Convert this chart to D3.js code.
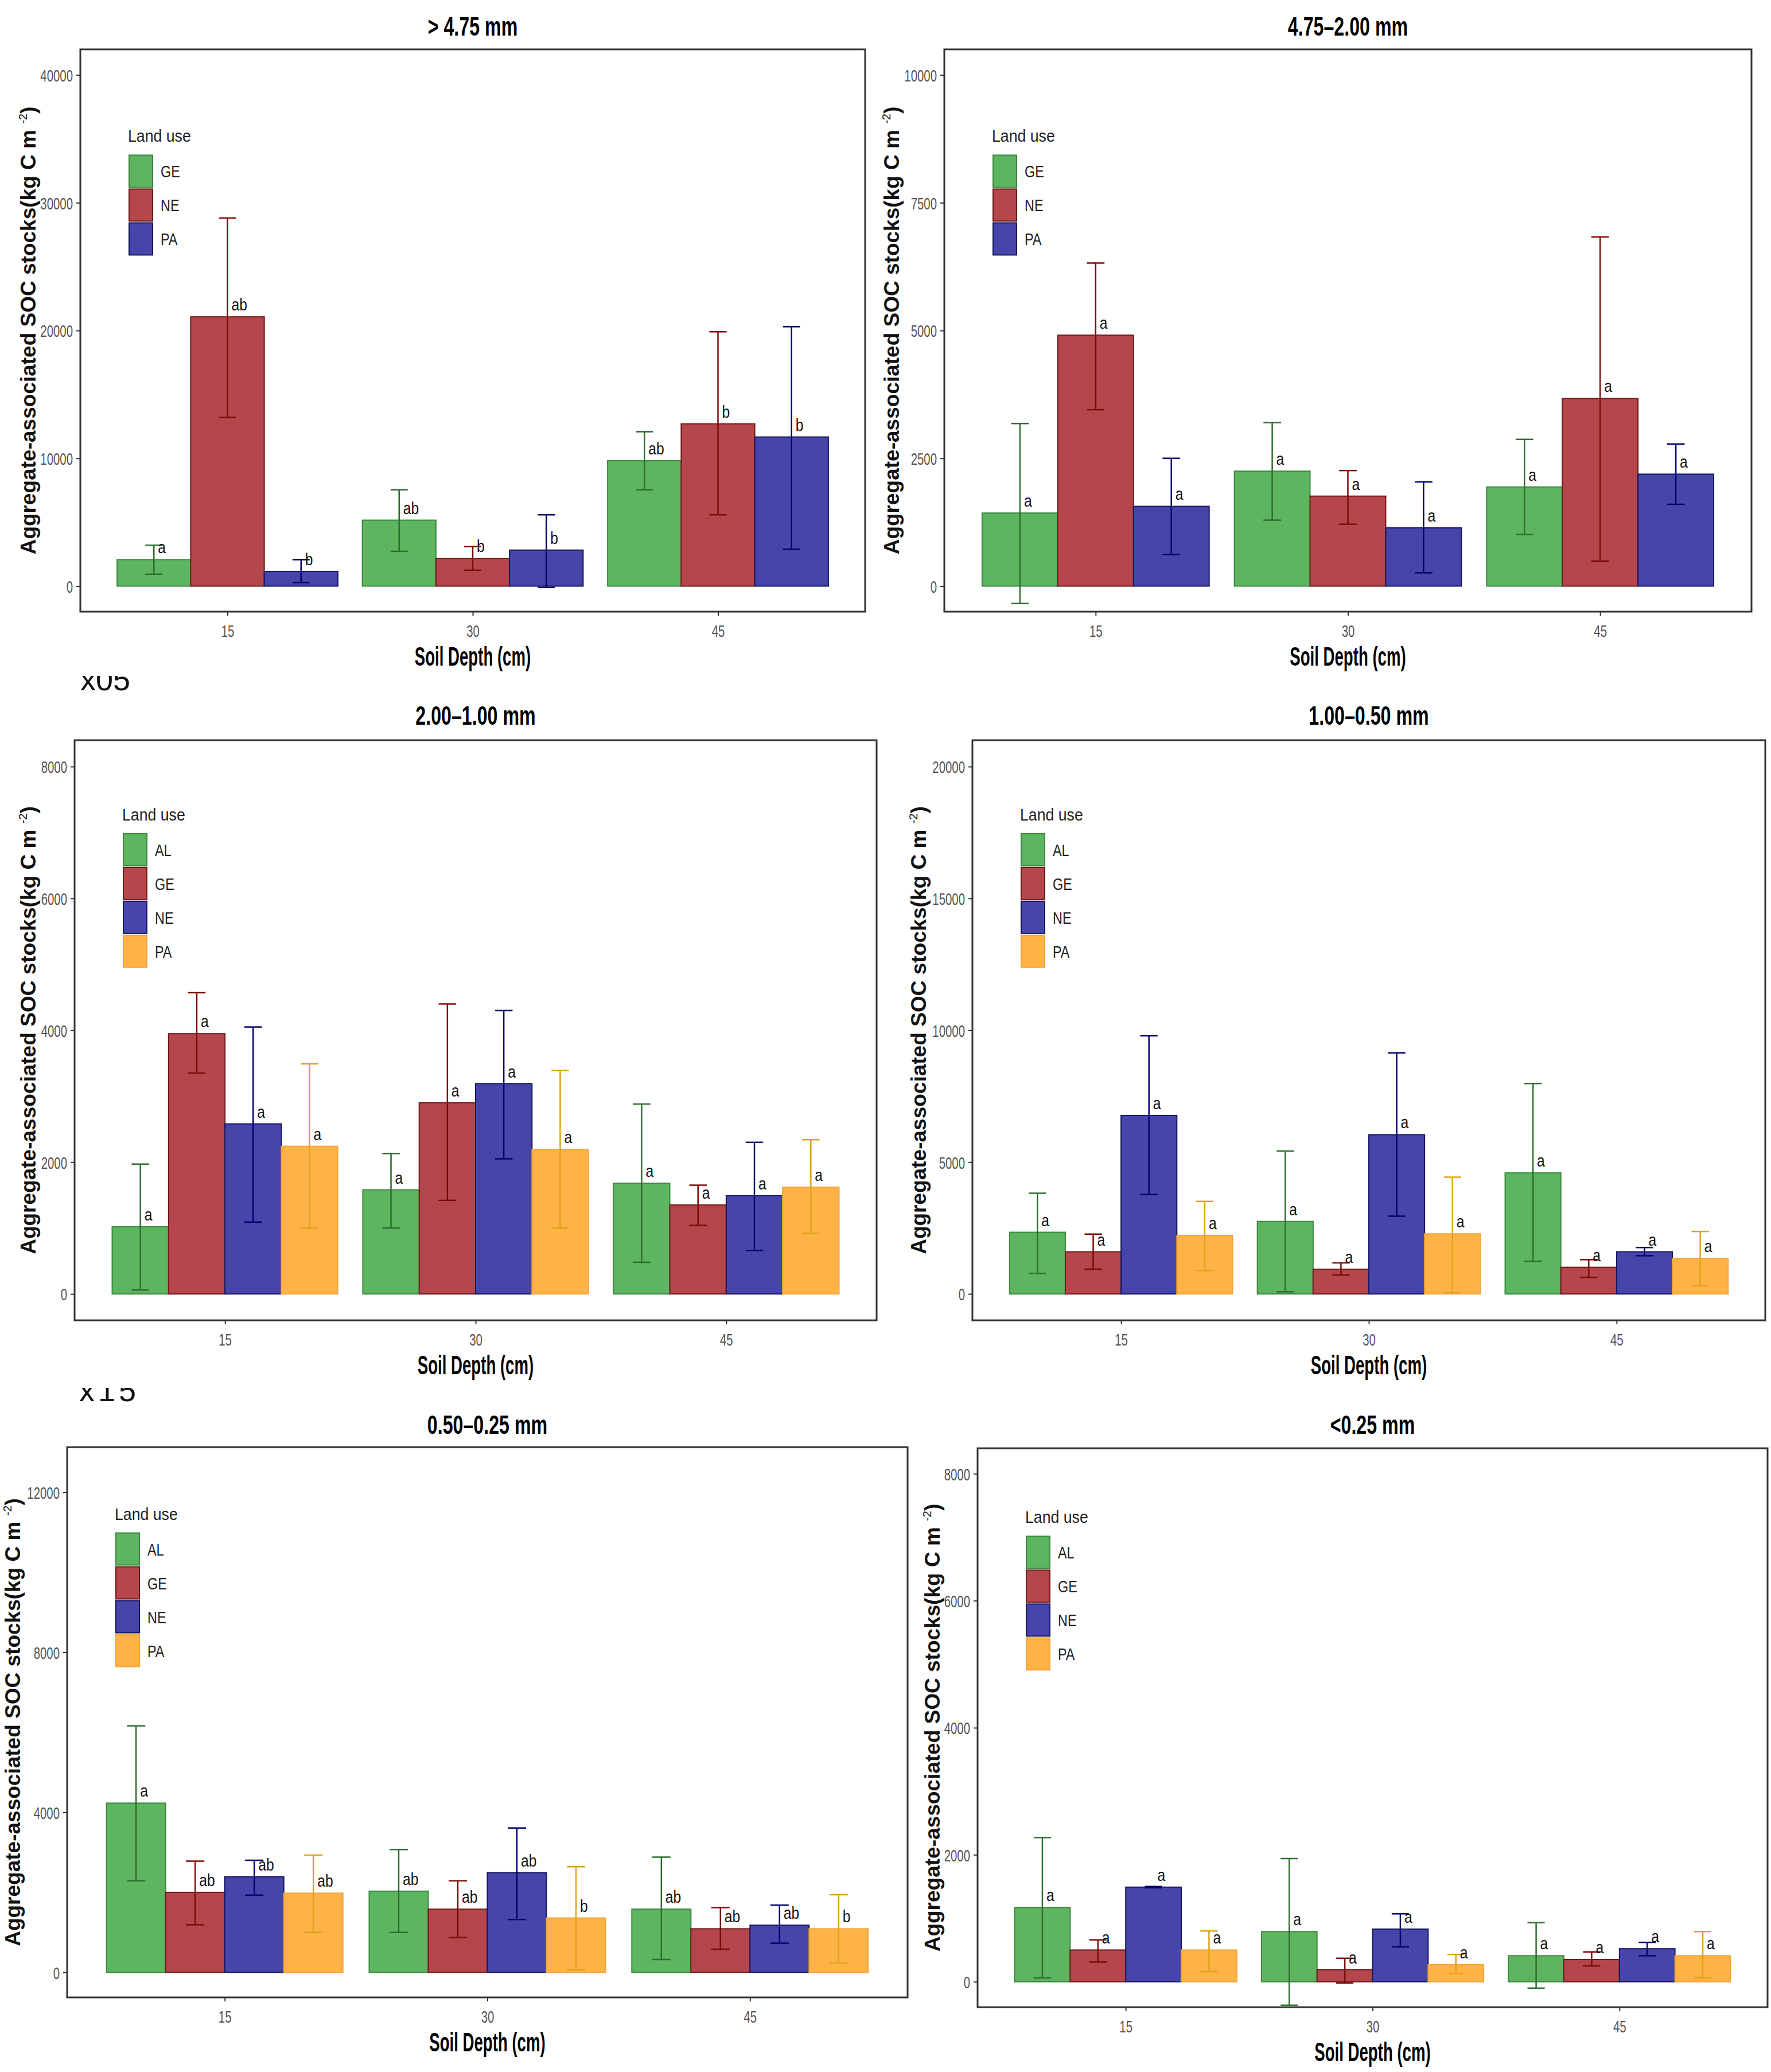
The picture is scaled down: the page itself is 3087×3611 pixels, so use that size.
<!DOCTYPE html>
<html>
<head>
<meta charset="utf-8">
<script src="https://cdn.jsdelivr.net/npm/d3@7"></script>
<style>
body { margin: 0; background: #fff; }
text { font-family: "Liberation Sans", Arial, sans-serif; }
</style>
</head>
<body>
<svg id="chart" width="3087" height="3611"></svg>
<script>
// ---- data (rows = soil depth, columns = land use) ----
const depths = ["15", "30", "45"];
const landUse3 = ["GE", "NE", "PA"];
const landUse4 = ["AL", "GE", "NE", "PA"];

// > 4.75 mm
const p1Ticks = [0, 10000, 20000, 30000, 40000];
const p1Mean = [[2070, 21070, 1140], [5160, 2170, 2820], [9810, 12700, 11670]];
const p1Low = [[930, 13200, 280], [2720, 1240, -100], [7540, 5580, 2890]];
const p1High = [[3200, 28800, 2070], [7540, 3100, 5580], [12080, 19900, 20300]];
const p1Letters = [["a", "ab", "b"], ["ab", "b", "b"], ["ab", "b", "b"]];

// 4.75-2.00 mm
const p2Ticks = [0, 2500, 5000, 7500, 10000];
const p2Mean = [[1430, 4910, 1560], [2250, 1760, 1140], [1940, 3670, 2190]];
const p2Low = [[-340, 3450, 620], [1290, 1210, 260], [1010, 490, 1600]];
const p2High = [[3180, 6320, 2500], [3200, 2260, 2040], [2870, 6830, 2780]];
const p2Letters = [["a", "a", "a"], ["a", "a", "a"], ["a", "a", "a"]];

// 2.00-1.00 mm
const p3Ticks = [0, 2000, 4000, 6000, 8000];
const p3Mean = [[1020, 3950, 2580, 2240], [1580, 2900, 3190, 2190], [1680, 1350, 1490, 1620]];
const p3Low = [[60, 3350, 1090, 1000], [1000, 1420, 2050, 1000], [480, 1040, 660, 920]];
const p3High = [[1970, 4570, 4050, 3490], [2130, 4400, 4300, 3390], [2880, 1650, 2300, 2340]];
const p3Letters = [["a", "a", "a", "a"], ["a", "a", "a", "a"], ["a", "a", "a", "a"]];

// 1.00-0.50 mm
const p4Ticks = [0, 5000, 10000, 15000, 20000];
const p4Mean = [[2340, 1600, 6770, 2220], [2750, 940, 6040, 2280], [4590, 1010, 1600, 1350]];
const p4Low = [[780, 940, 3770, 890], [80, 720, 2950, 50], [1240, 630, 1450, 310]];
const p4High = [[3820, 2270, 9790, 3510], [5420, 1180, 9140, 4430], [7980, 1300, 1760, 2370]];
const p4Letters = [["a", "a", "a", "a"], ["a", "a", "a", "a"], ["a", "a", "a", "a"]];

// 0.50-0.25 mm
const p5Ticks = [0, 4000, 8000, 12000];
const p5Mean = [[4230, 2000, 2390, 1980], [2030, 1580, 2490, 1360], [1580, 1090, 1180, 1090]];
const p5Low = [[2290, 1190, 1930, 1000], [1000, 870, 1320, 60], [320, 580, 730, 240]];
const p5High = [[6160, 2780, 2800, 2930], [3070, 2290, 3610, 2640], [2880, 1620, 1680, 1940]];
const p5Letters = [["a", "ab", "ab", "ab"], ["ab", "ab", "ab", "b"], ["ab", "ab", "ab", "b"]];

// <0.25 mm
const p6Ticks = [0, 2000, 4000, 6000, 8000];
const p6Mean = [[1170, 500, 1490, 500], [790, 190, 830, 270], [410, 350, 520, 410]];
const p6Low = [[60, 310, 1480, 160], [-370, -20, 550, 130], [-100, 250, 410, 60]];
const p6High = [[2270, 660, 1500, 800], [1940, 370, 1070, 430], [930, 470, 620, 790]];
const p6Letters = [["a", "a", "a", "a"], ["a", "a", "a", "a"], ["a", "a", "a", "a"]];

// colours by position in the legend
const fills = ["#5db55f", "#b5464b", "#4646aa", "#ffb347"];
const edges = ["#3d8740", "#6e1b1b", "#16165e", "#f2a53a"];
const errCols = ["#2f6e32", "#7e0a0a", "#00006e", "#e0a21c"];

const svg = d3.select("#chart");

// panel layout: box = [left, top, right, bottom] of the panel border
const panels = [
    { title: "> 4.75 mm", groups: landUse3, mean: p1Mean, low: p1Low, high: p1High, letters: p1Letters, ticks: p1Ticks, lim: [0, 40000], box: [140, 86, 1508, 1066], titleY: 46, ytx: 50 },
    { title: "4.75\u20132.00 mm", groups: landUse3, mean: p2Mean, low: p2Low, high: p2High, letters: p2Letters, ticks: p2Ticks, lim: [0, 10000], box: [1646, 86, 3053, 1066], titleY: 46, ytx: 1555 },
    { title: "2.00\u20131.00 mm", groups: landUse4, mean: p3Mean, low: p3Low, high: p3High, letters: p3Letters, ticks: p3Ticks, lim: [0, 8000], box: [130, 1290, 1528, 2301], titleY: 1247, ytx: 50 },
    { title: "1.00\u20130.50 mm", groups: landUse4, mean: p4Mean, low: p4Low, high: p4High, letters: p4Letters, ticks: p4Ticks, lim: [0, 20000], box: [1695, 1290, 3077, 2301], titleY: 1247, ytx: 1602 },
    { title: "0.50\u20130.25 mm", groups: landUse4, mean: p5Mean, low: p5Low, high: p5High, letters: p5Letters, ticks: p5Ticks, lim: [0, 12500], box: [117, 2522, 1582, 3481], titleY: 2483, ytx: 23 },
    { title: "<0.25 mm", groups: landUse4, mean: p6Mean, low: p6Low, high: p6High, letters: p6Letters, ticks: p6Ticks, lim: [0, 8000], box: [1704, 2524, 3081, 3498], titleY: 2483, ytx: 1626 }
];

// squeezed text, the figure's fonts are condensed
function label(g, x, y, str, size, sx) {
    return g.append("text")
        .attr("transform", "translate(" + x + "," + y + ") scale(" + sx + ",1)")
        .attr("font-size", size)
        .text(str);
}

function drawPanel(p) {
    const L = p.box[0], T = p.box[1], R = p.box[2], B = p.box[3];
    const g = svg.append("g");
    const span = p.lim[1] - p.lim[0];

    const y = d3.scaleLinear()
        .domain([p.lim[0] - 0.05 * span, p.lim[1] + 0.05 * span])
        .range([B, T]);
    const x = d3.scalePoint().domain(depths).range([L, R]).padding(0.6);
    const step = x.step();
    const inner = d3.scaleBand().domain(p.groups).range([-0.45 * step, 0.45 * step]).padding(0);
    const bw = inner.bandwidth();
    const whisk = 0.07 * step;

    // flatten for drawing
    const rows = [];
    depths.forEach(function(d, di) {
        p.groups.forEach(function(lu, gi) {
            rows.push({
                depth: d, lu: lu, gi: gi,
                mean: p.mean[di][gi], low: p.low[di][gi], high: p.high[di][gi],
                letter: p.letters[di][gi]
            });
        });
    });
    const cx = function(d) { return x(d.depth) + inner(d.lu) + bw / 2; };

    // bars
    g.selectAll(".bar")
        .data(rows)
        .enter()
        .append("rect")
        .attr("x", function(d) { return x(d.depth) + inner(d.lu); })
        .attr("y", function(d) { return y(d.mean); })
        .attr("width", bw)
        .attr("height", function(d) { return y(0) - y(d.mean); })
        .attr("fill", function(d) { return fills[d.gi]; })
        .attr("stroke", function(d) { return edges[d.gi]; })
        .attr("stroke-width", 2);

    // error bars
    const eb = g.selectAll(".err")
        .data(rows)
        .enter()
        .append("g")
        .attr("stroke", function(d) { return errCols[d.gi]; })
        .attr("stroke-width", 2.5)
        .attr("fill", "none");
    eb.append("line")
        .attr("x1", cx).attr("x2", cx)
        .attr("y1", function(d) { return y(d.low); })
        .attr("y2", function(d) { return y(d.high); });
    eb.append("line")
        .attr("x1", function(d) { return cx(d) - whisk / 2; })
        .attr("x2", function(d) { return cx(d) + whisk / 2; })
        .attr("y1", function(d) { return y(d.high); })
        .attr("y2", function(d) { return y(d.high); });
    eb.append("line")
        .attr("x1", function(d) { return cx(d) - whisk / 2; })
        .attr("x2", function(d) { return cx(d) + whisk / 2; })
        .attr("y1", function(d) { return y(d.low); })
        .attr("y2", function(d) { return y(d.low); });

    // significance letters
    g.selectAll(".sig")
        .data(rows)
        .enter()
        .append("text")
        .attr("transform", function(d) { return "translate(" + (cx(d) + 7) + "," + (y(d.mean) - 11) + ") scale(0.85,1)"; })
        .attr("font-size", 29)
        .attr("fill", "#111")
        .text(function(d) { return d.letter; });

    // axes
    const yAxis = g.append("g")
        .attr("transform", "translate(" + L + ",0)")
        .call(d3.axisLeft(y).tickValues(p.ticks).tickSize(7).tickFormat(d3.format("d")));
    yAxis.select(".domain").remove();
    yAxis.selectAll("line").attr("stroke", "#333").attr("stroke-width", 2);
    yAxis.selectAll("text")
        .attr("font-family", "Liberation Sans, Arial, sans-serif")
        .attr("font-size", 30)
        .attr("fill", "#555")
        .attr("dy", "0.36em")
        .attr("x", -13 / 0.68)
        .attr("transform", "scale(0.68,1)");

    const xAxis = g.append("g")
        .attr("transform", "translate(0," + B + ")")
        .call(d3.axisBottom(x).tickSize(7));
    xAxis.select(".domain").remove();
    xAxis.selectAll("line").attr("stroke", "#333").attr("stroke-width", 2);
    xAxis.selectAll("text")
        .attr("font-family", "Liberation Sans, Arial, sans-serif")
        .attr("font-size", 30)
        .attr("fill", "#555")
        .attr("y", 44)
        .attr("dy", null)
        .attr("transform", "scale(0.68,1)");

    // panel border
    g.append("rect")
        .attr("x", L).attr("y", T)
        .attr("width", R - L).attr("height", B - T)
        .attr("fill", "none")
        .attr("stroke", "#333")
        .attr("stroke-width", 3);

    // titles
    label(g, (L + R) / 2, p.titleY + 16, p.title, 46, 0.70)
        .attr("text-anchor", "middle").attr("font-weight", "bold");
    label(g, (L + R) / 2, B + 94, "Soil Depth (cm)", 46, 0.60)
        .attr("text-anchor", "middle").attr("font-weight", "bold");

    const yt = g.append("text")
        .attr("transform", "translate(" + (p.ytx + 12) + "," + (T + B) / 2 + ") rotate(-90)")
        .attr("text-anchor", "middle")
        .attr("font-size", 37)
        .attr("font-weight", "bold")
        .attr("fill", "#111");
    yt.append("tspan").text("Aggregate-associated SOC stocks(kg C m ");
    yt.append("tspan").attr("font-size", 20).attr("font-weight", "normal").attr("dy", -15).text("-2");
    yt.append("tspan").attr("dy", 15).text(")");

    // legend
    const n = p.groups.length;
    const keyStep = 59;
    const blockH = 43 + n * keyStep - 3;
    const top = T + 0.255 * (B - T) - blockH / 2;
    const kx = L + 85;
    label(g, kx - 2, top + 20, "Land use", 29, 0.92).attr("fill", "#222");
    const keys = g.selectAll(".key")
        .data(p.groups)
        .enter()
        .append("g")
        .attr("transform", function(d, i) { return "translate(" + kx + "," + (top + 43 + i * keyStep) + ")"; });
    keys.append("rect")
        .attr("width", 41).attr("height", 56)
        .attr("fill", function(d, i) { return fills[i]; })
        .attr("stroke", function(d, i) { return edges[i]; })
        .attr("stroke-width", 2);
    keys.each(function(d) {
        label(d3.select(this), 55, 39, d, 30, 0.78).attr("fill", "#222");
    });
}

panels.forEach(drawPanel);

// cropped caption fragments left over between the rows
const defs = svg.append("defs");
defs.append("clipPath").attr("id", "cut1")
    .append("rect").attr("x", 120).attr("y", 1178).attr("width", 140).attr("height", 30);
defs.append("clipPath").attr("id", "cut2")
    .append("rect").attr("x", 120).attr("y", 2419).attr("width", 140).attr("height", 26);
svg.append("text")
    .attr("clip-path", "url(#cut1)")
    .attr("x", 140).attr("y", 1203)
    .attr("font-size", 54).attr("fill", "#111")
    .text("x05");
svg.append("text")
    .attr("clip-path", "url(#cut2)")
    .attr("x", 138).attr("y", 2442)
    .attr("font-size", 54).attr("fill", "#111")
    .attr("letter-spacing", 6)
    .text("x15");
</script>
</body>
</html>
